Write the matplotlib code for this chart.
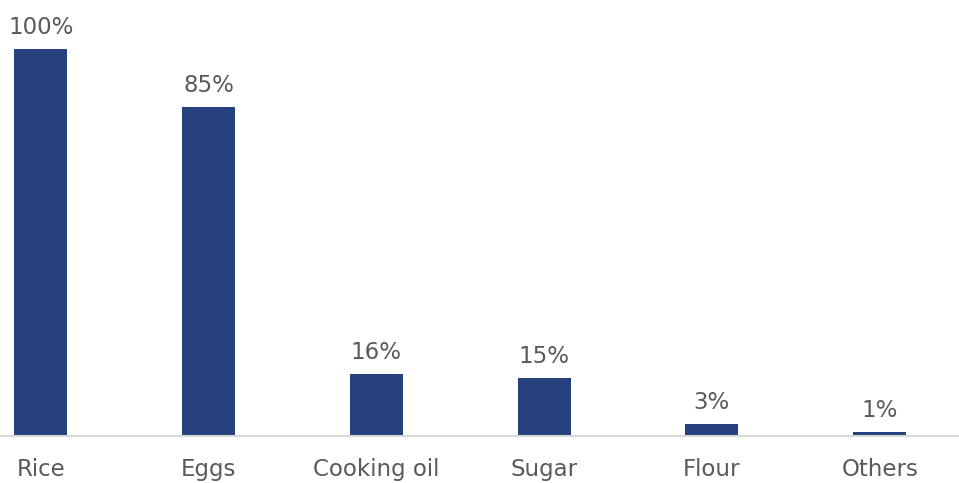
import matplotlib
matplotlib.use("Agg")
import matplotlib.pyplot as plt

# share of households buying each staple
categories = ["Rice", "Eggs", "Cooking oil", "Sugar", "Flour", "Others"]
shares = [100, 85, 16, 15, 3, 1]
value_labels = ["100%", "85%", "16%", "15%", "3%", "1%"]

BAR_COLOR = "#27417f"
TEXT_COLOR = "#595959"

plt.rcParams["font.family"] = ["DejaVu Sans"]

fig = plt.figure(figsize=(9.59, 4.83), dpi=100)
ax = fig.add_axes([0, 0.0983, 1, 0.9017])

x = list(range(len(categories)))
ax.bar(x, shares, width=0.316, color=BAR_COLOR, zorder=2)

for xi, v, lab in zip(x, shares, value_labels):
    ax.annotate(lab, (xi, v), xytext=(0, 7), textcoords="offset points",
                ha="center", va="bottom", fontsize=16.5, color=TEXT_COLOR)

ax.set_xlim(-0.2425, 5.4726)
ax.set_ylim(0, 112.7)
ax.set_xticks(x)
ax.set_xticklabels(categories, fontsize=16.5, color=TEXT_COLOR)
ax.tick_params(axis="x", length=0, pad=16)
ax.set_yticks([])

for side in ["top", "right", "left"]:
    ax.spines[side].set_visible(False)
ax.spines["bottom"].set_color("#d9d9d9")
ax.spines["bottom"].set_linewidth(1.5)

fig.savefig("out.png", dpi=100)
